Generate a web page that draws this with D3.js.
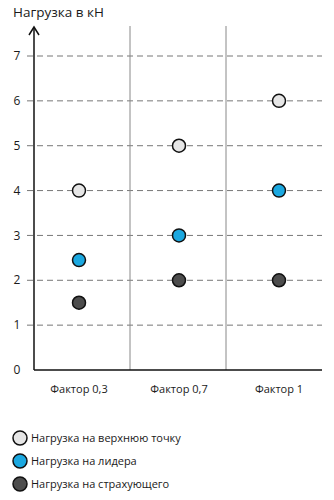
<!DOCTYPE html>
<html>
<head>
<meta charset="utf-8">
<script src="https://cdn.jsdelivr.net/npm/d3@7"></script>
<style>
  body { margin: 0; background: #fff; }
  text { font-family: "Open Sans", "Noto Sans", sans-serif; fill: #1a1a1a; }
</style>
</head>
<body>
<svg id="chart"></svg>
<script>
const categories = ['Фактор 0,3', 'Фактор 0,7', 'Фактор 1'];
const upperPoint = [4, 5, 6];
const leader = [2.45, 3, 4];
const belayer = [1.5, 2, 2];
const yTicks = [0, 1, 2, 3, 4, 5, 6, 7];
const seriesNames = ['Нагрузка на верхнюю точку', 'Нагрузка на лидера', 'Нагрузка на страхующего'];
const seriesColors = ['#e6e6e6', '#1ba8e0', '#4d4d4d'];

const width = 334, height = 500;
const svg = d3.select('#chart').attr('width', width).attr('height', height);

// scales
const y = d3.scaleLinear().domain([0, 7]).range([370, 56]);
const band = d3.scaleBand().domain(categories).range([34, 322]);
const x = d3.scalePoint().domain(categories).range([79, 279]);

// title
svg.append('text')
  .attr('x', 13).attr('y', 17)
  .style('font-size', '13.5px')
  .text('Нагрузка в кН');

// dashed grid lines
svg.selectAll('.grid')
  .data(yTicks.filter(d => d > 0))
  .enter().append('line')
  .attr('class', 'grid')
  .attr('x1', 27).attr('x2', 322)
  .attr('y1', d => y(d)).attr('y2', d => y(d))
  .style('stroke', '#777')
  .style('stroke-width', 1)
  .style('stroke-dasharray', '6,4');

// tick labels
svg.selectAll('.tick-label')
  .data(yTicks)
  .enter().append('text')
  .attr('class', 'tick-label')
  .attr('x', 17)
  .attr('y', d => y(d))
  .attr('dy', '0.35em')
  .attr('text-anchor', 'middle')
  .style('font-size', '12px')
  .text(d => d);

// vertical separators between categories
svg.selectAll('.sep')
  .data(categories.slice(1))
  .enter().append('line')
  .attr('class', 'sep')
  .attr('x1', d => band(d)).attr('x2', d => band(d))
  .attr('y1', 26).attr('y2', 370)
  .style('stroke', '#888')
  .style('stroke-width', 1);

// axes
svg.append('line')
  .attr('x1', 34).attr('x2', 322)
  .attr('y1', 370).attr('y2', 370)
  .style('stroke', '#111').style('stroke-width', 1.5);
svg.append('line')
  .attr('x1', 34).attr('x2', 34)
  .attr('y1', 370).attr('y2', 27)
  .style('stroke', '#111').style('stroke-width', 1.5);
svg.append('path')
  .attr('d', 'M29,35L34,27L39,35')
  .style('fill', 'none')
  .style('stroke', '#111').style('stroke-width', 1.5);

// category labels
svg.selectAll('.cat')
  .data(categories)
  .enter().append('text')
  .attr('class', 'cat')
  .attr('x', d => x(d))
  .attr('y', 389)
  .attr('dy', '0.35em')
  .attr('text-anchor', 'middle')
  .style('font-size', '11px')
  .text(d => d);

// points
const series = [upperPoint, leader, belayer];
series.forEach((vals, i) => {
  svg.selectAll('.pt' + i)
    .data(vals)
    .enter().append('circle')
    .attr('class', 'pt' + i)
    .attr('cx', (d, j) => x(categories[j]))
    .attr('cy', d => y(d))
    .attr('r', 6.5)
    .style('fill', seriesColors[i])
    .style('stroke', '#111')
    .style('stroke-width', 1.5);
});

// legend
const legend = svg.selectAll('.legend')
  .data(seriesNames)
  .enter().append('g')
  .attr('class', 'legend')
  .attr('transform', (d, i) => `translate(20,${438 + i * 23})`);
legend.append('circle')
  .attr('r', 7)
  .style('fill', (d, i) => seriesColors[i])
  .style('stroke', '#111')
  .style('stroke-width', 1.5);
legend.append('text')
  .attr('x', 11)
  .attr('dy', '0.35em')
  .style('font-size', '11px')
  .text(d => d);
</script>
</body>
</html>
